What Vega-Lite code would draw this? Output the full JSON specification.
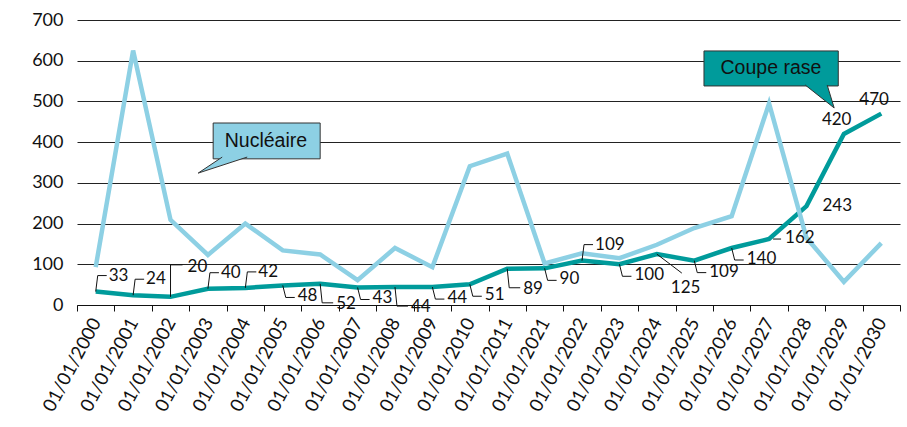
{
  "$schema": "https://vega.github.io/schema/vega-lite/v6.json",
  "width": 823,
  "height": 285,
  "autosize": {"type": "none"},
  "padding": {"left": 77, "top": 20, "right": 7, "bottom": 122},
  "background": "white",
  "config": {
    "view": {"stroke": null},
    "font": "Lato",
    "text": {"font": "Lato", "fontSize": 17, "color": "#111"}
  },
  "layer": [
    {
      "data": {
        "values": [
          {"date": "01/01/2000", "nucleaire": 93, "coupe": 33},
          {"date": "01/01/2001", "nucleaire": 625, "coupe": 24},
          {"date": "01/01/2002", "nucleaire": 209, "coupe": 20},
          {"date": "01/01/2003", "nucleaire": 123, "coupe": 40},
          {"date": "01/01/2004", "nucleaire": 200, "coupe": 42},
          {"date": "01/01/2005", "nucleaire": 134, "coupe": 48},
          {"date": "01/01/2006", "nucleaire": 124, "coupe": 52},
          {"date": "01/01/2007", "nucleaire": 61, "coupe": 43},
          {"date": "01/01/2008", "nucleaire": 140, "coupe": 44},
          {"date": "01/01/2009", "nucleaire": 93, "coupe": 44},
          {"date": "01/01/2010", "nucleaire": 341, "coupe": 51},
          {"date": "01/01/2011", "nucleaire": 372, "coupe": 89},
          {"date": "01/01/2021", "nucleaire": 102, "coupe": 90},
          {"date": "01/01/2022", "nucleaire": 127, "coupe": 109},
          {"date": "01/01/2023", "nucleaire": 115, "coupe": 100},
          {"date": "01/01/2024", "nucleaire": 148, "coupe": 125},
          {"date": "01/01/2025", "nucleaire": 189, "coupe": 109},
          {"date": "01/01/2026", "nucleaire": 218, "coupe": 140},
          {"date": "01/01/2027", "nucleaire": 495, "coupe": 162},
          {"date": "01/01/2028", "nucleaire": 165, "coupe": 243},
          {"date": "01/01/2029", "nucleaire": 57, "coupe": 420},
          {"date": "01/01/2030", "nucleaire": 152, "coupe": 470}
        ]
      },
      "encoding": {
        "x": {
          "field": "date",
          "type": "ordinal",
          "scale": {"type": "band", "paddingInner": 0, "paddingOuter": 0},
          "axis": {
            "title": null,
            "labelAngle": -62,
            "labelFontSize": 18.5,
            "labelColor": "#111",
            "labelPadding": 8,
            "tickBand": "extent",
            "tickSize": 6,
            "tickColor": "#111",
            "domainColor": "#111",
            "domainWidth": 1.2,
            "grid": false
          }
        }
      },
      "layer": [
        {
          "mark": {"type": "line", "color": "#009b9b", "strokeWidth": 4.5},
          "encoding": {
            "y": {
              "field": "coupe",
              "type": "quantitative",
              "scale": {"domain": [0, 700], "nice": false},
              "axis": {
                "title": null,
                "values": [0, 100, 200, 300, 400, 500, 600, 700],
                "labelFontSize": 18,
                "labelColor": "#111",
                "labelPadding": 14,
                "ticks": false,
                "domain": false,
                "grid": true,
                "gridColor": "#222",
                "gridWidth": 1
              }
            }
          }
        },
        {
          "mark": {"type": "line", "color": "#8dd0e4", "strokeWidth": 4.5},
          "encoding": {"y": {"field": "nucleaire", "type": "quantitative"}}
        },
        {
          "transform": [{"filter": {"field": "date", "oneOf": ["01/01/2000", "01/01/2001", "01/01/2003", "01/01/2004", "01/01/2022"]}}],
          "layer": [
            {"mark": {"type": "point", "shape": "M0,0L2,-16L11,-16", "size": 4, "filled": false, "stroke": "#111", "strokeWidth": 1, "opacity": 1}},
            {"mark": {"type": "text", "align": "left", "baseline": "middle", "dx": 13, "dy": -16}, "encoding": {"text": {"field": "coupe"}}}
          ],
          "encoding": {"y": {"field": "coupe", "type": "quantitative"}}
        },
        {
          "transform": [{"filter": {"field": "date", "oneOf": ["01/01/2002"]}}],
          "layer": [
            {"mark": {"type": "point", "shape": "M0,0L0,-32L12,-32", "size": 4, "filled": false, "stroke": "#111", "strokeWidth": 1, "opacity": 1}},
            {"mark": {"type": "text", "align": "left", "baseline": "middle", "dx": 17, "dy": -30}, "encoding": {"text": {"field": "coupe"}}}
          ],
          "encoding": {"y": {"field": "coupe", "type": "quantitative"}}
        },
        {
          "transform": [{"filter": {"field": "date", "oneOf": ["01/01/2005", "01/01/2007", "01/01/2009", "01/01/2010", "01/01/2021", "01/01/2023", "01/01/2025", "01/01/2026"]}}],
          "layer": [
            {"mark": {"type": "point", "shape": "M0,0L3,12L12,12", "size": 4, "filled": false, "stroke": "#111", "strokeWidth": 1, "opacity": 1}},
            {"mark": {"type": "text", "align": "left", "baseline": "middle", "dx": 15, "dy": 11}, "encoding": {"text": {"field": "coupe"}}}
          ],
          "encoding": {"y": {"field": "coupe", "type": "quantitative"}}
        },
        {
          "transform": [{"filter": {"field": "date", "oneOf": ["01/01/2006", "01/01/2008", "01/01/2011"]}}],
          "layer": [
            {"mark": {"type": "point", "shape": "M0,0L2,19L13,19", "size": 4, "filled": false, "stroke": "#111", "strokeWidth": 1, "opacity": 1}},
            {"mark": {"type": "text", "align": "left", "baseline": "middle", "dx": 16, "dy": 20}, "encoding": {"text": {"field": "coupe"}}}
          ],
          "encoding": {"y": {"field": "coupe", "type": "quantitative"}}
        },
        {
          "transform": [{"filter": {"field": "date", "oneOf": ["01/01/2024"]}}],
          "layer": [
            {"mark": {"type": "point", "shape": "M0,0L25,19", "size": 4, "filled": false, "stroke": "#111", "strokeWidth": 1, "opacity": 1}},
            {"mark": {"type": "text", "align": "left", "baseline": "middle", "dx": 14, "dy": 34}, "encoding": {"text": {"field": "coupe"}}}
          ],
          "encoding": {"y": {"field": "coupe", "type": "quantitative"}}
        },
        {
          "transform": [{"filter": {"field": "date", "oneOf": ["01/01/2027"]}}],
          "layer": [
            {"mark": {"type": "point", "shape": "M4,0L12,0", "size": 4, "filled": false, "stroke": "#111", "strokeWidth": 1, "opacity": 1}},
            {"mark": {"type": "text", "align": "left", "baseline": "middle", "dx": 16, "dy": -1}, "encoding": {"text": {"field": "coupe"}}}
          ],
          "encoding": {"y": {"field": "coupe", "type": "quantitative"}}
        },
        {
          "transform": [{"filter": {"field": "date", "oneOf": ["01/01/2028"]}}],
          "mark": {"type": "text", "align": "left", "baseline": "middle", "dx": 16, "dy": 0},
          "encoding": {"y": {"field": "coupe", "type": "quantitative"}, "text": {"field": "coupe"}}
        },
        {
          "transform": [{"filter": {"field": "date", "oneOf": ["01/01/2029", "01/01/2030"]}}],
          "mark": {"type": "text", "align": "left", "baseline": "middle", "dx": -22, "dy": -14},
          "encoding": {"y": {"field": "coupe", "type": "quantitative"}, "text": {"field": "coupe"}}
        }
      ]
    },
    {
      "data": {
        "values": [
          {"label": "Nucléaire", "x1": 3.64, "x2": 6.5, "y1": 359, "y2": 447, "tx": 5.05, "ty": 403, "px": 3.24, "py": 324},
          {"label": "Coupe rase", "x1": 16.76, "x2": 20.35, "y1": 538, "y2": 624, "tx": 18.55, "ty": 582, "px": 20.24, "py": 484}
        ]
      },
      "layer": [
        {
          "mark": {"type": "rect", "stroke": "#333", "strokeWidth": 1},
          "encoding": {
            "x": {"field": "x1", "type": "quantitative", "scale": {"domain": [0, 22], "nice": false, "zero": false}, "axis": null},
            "x2": {"field": "x2"},
            "y": {"field": "y1", "type": "quantitative"},
            "y2": {"field": "y2"},
            "fill": {"field": "label", "type": "nominal", "scale": {"domain": ["Nucléaire", "Coupe rase"], "range": ["#8dd0e4", "#009b9b"]}, "legend": null}
          }
        },
        {
          "transform": [{"filter": {"field": "label", "equal": "Nucléaire"}}],
          "mark": {"type": "point", "shape": "M0.48,-0.32L0,0L0.98,-0.32", "size": 10000, "fill": "#8dd0e4", "stroke": "#333", "strokeWidth": 1, "opacity": 1, "filled": true},
          "encoding": {
            "x": {"field": "px", "type": "quantitative"},
            "y": {"field": "py", "type": "quantitative"}
          }
        },
        {
          "transform": [{"filter": {"field": "label", "equal": "Coupe rase"}}],
          "mark": {"type": "point", "shape": "M-0.58,-0.46L0,0L-0.14,-0.46", "size": 10000, "fill": "#009b9b", "stroke": "#333", "strokeWidth": 1, "opacity": 1, "filled": true},
          "encoding": {
            "x": {"field": "px", "type": "quantitative"},
            "y": {"field": "py", "type": "quantitative"}
          }
        },
        {
          "mark": {"type": "text", "font": "Liberation Sans", "fontSize": 19.5, "align": "center", "baseline": "middle", "color": "#111"},
          "encoding": {
            "x": {"field": "tx", "type": "quantitative"},
            "y": {"field": "ty", "type": "quantitative"},
            "text": {"field": "label"}
          }
        }
      ]
    }
  ],
  "resolve": {"scale": {"x": "independent", "fill": "independent"}}
}
